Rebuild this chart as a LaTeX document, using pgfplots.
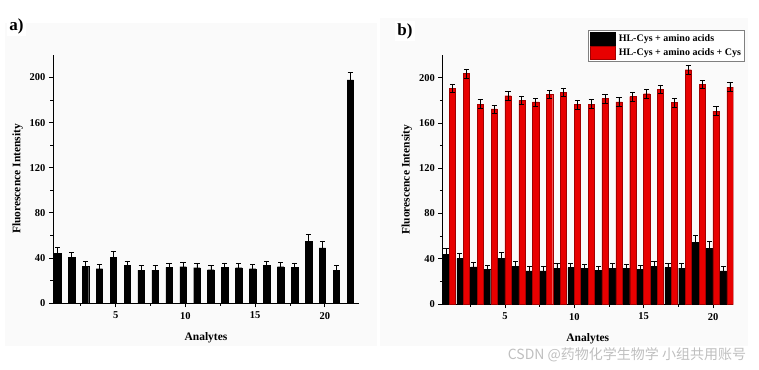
\documentclass[border=0pt]{standalone}
\usepackage{fontspec}
\setmainfont{Liberation Serif}
\newfontfamily\cjk{Noto Sans CJK SC}
\usepackage{pgfplots}
\pgfplotsset{compat=1.18}
\definecolor{barred}{RGB}{232,0,0}
\definecolor{bgray}{RGB}{250,250,250}
\pgfplotsset{
 common/.style={
  scale only axis,
  axis lines=left,
  axis line style={-, line width=0.9pt},
  ymin=0, ymax=220,
  ytick={0,40,...,200},
  minor ytick={20,60,...,180},
  xtick={5,10,15,20},
  minor xtick={2.5,7.5,12.5,17.5},
  tick align=outside,
  major tick length=4pt, minor tick length=2.5pt,
  tick style={line width=0.8pt, black},
  ticklabel style={font=\bfseries\fontsize{10.5}{12}\selectfont},
  xticklabel style={yshift=-1.5pt},
  /pgf/number format/assume math mode=true,
  xlabel={Analytes}, ylabel={Fluorescence Intensity},
  label style={font=\bfseries\fontsize{11.5}{13}\selectfont},
  xlabel style={yshift=-7pt},
  ybar,
  error bars/y dir=both, error bars/y explicit,
  error bars/error mark options={rotate=90, mark size=2.6pt, line width=0.8pt, black},
  error bars/error bar style={line width=0.8pt, black},
 }
}
\pgfplotstableread{
x y e
1 44 5
2 40.3 4.7
3 32.8 3.9
4 30.4 3.9
5 40.6 4.8
6 33.4 3.9
7 29.2 3.8
8 29.2 3.8
9 31.6 3.9
10 32.2 3.9
11 31.3 3.9
12 29.5 3.8
13 31.6 3.9
14 31.3 3.9
15 30.4 3.9
16 33.4 3.9
17 32.2 3.9
18 31.6 3.9
19 54.4 6.3
20 49 6
21 29.2 4
22 198 6.8
}\dataA
\pgfplotstableread{
x y e
1 44 5
2 40.3 4.7
3 32.8 3.9
4 30.4 3.9
5 40.6 4.8
6 33.4 3.9
7 29.2 3.8
8 29.2 3.8
9 31.6 3.9
10 32.2 3.9
11 31.3 3.9
12 29.5 3.8
13 31.6 3.9
14 31.3 3.9
15 30.4 3.9
16 33.4 3.9
17 32.2 3.9
18 31.6 3.9
19 54.4 6.3
20 49 6
21 29.2 4
}\dataBk
\pgfplotstableread{
x y e
1 190.6 3.8
2 203.5 4.2
3 176.7 3.8
4 172.3 3.5
5 184 4.2
6 180 3.8
7 178.5 3.5
8 185.3 3.7
9 187.3 3.6
10 176.1 3.8
11 176.7 3.8
12 181.4 3.8
13 178.5 3.6
14 183.2 3.8
15 185.8 3.8
16 189.7 3.8
17 177.9 3.8
18 207 4.2
19 194.1 3.8
20 170.5 3.8
21 191.7 3.8
}\dataBr
\begin{document}
\begin{tikzpicture}
\useasboundingbox (0,0) rectangle (759pt,369pt);
\fill[bgray] (5pt,23pt) rectangle (377pt,346pt);
\fill[bgray] (380pt,23pt) rectangle (748pt,351pt);
\node[fill=white, inner sep=2pt, font=\bfseries\fontsize{17}{18}\selectfont] at (16.5pt,343pt) {a)};
\node[fill=white, inner sep=2pt, font=\bfseries\fontsize{17}{18}\selectfont] at (405pt,338pt) {b)};
\begin{axis}[common,
  at={(53pt,66pt)}, anchor=south west,
  width=306pt, height=248pt,
  xmin=0.5, xmax=22.45,
  bar width=6.5pt,
]
\addplot[fill=black, draw=black, bar shift=-2.4pt] table[x=x, y=y, y error=e] {\dataA};
\end{axis}
\begin{axis}[common,
  at={(442.3pt,65pt)}, anchor=south west,
  width=291pt, height=249pt,
  xmin=0.48, xmax=21.46,
  bar width=6.2pt,
  legend style={at={(1.0378,1.1004)}, anchor=north east, draw=gray, line width=0.6pt,
    font=\bfseries\fontsize{10}{11}\selectfont, inner sep=1.5pt, row sep=1pt,
    nodes={inner sep=1.5pt}},
  legend cell align=left,
  legend image code/.code={\fill[#1] (0pt,-6.5pt) rectangle (25pt,6.5pt); \path (27pt,0pt);},
]
\addplot[fill=black, draw=black, line width=0.4pt, bar shift=-3.5pt] table[x=x, y=y, y error=e] {\dataBk};
\addlegendentry{HL-Cys + amino acids}
\addplot[fill=barred, draw=barred!70!black, line width=0.4pt, bar shift=3.0pt] table[x=x, y=y, y error=e] {\dataBr};
\addlegendentry{HL-Cys + amino acids + Cys}
\end{axis}
\node[text=gray!50, font=\cjk\fontsize{14}{14}\selectfont] at (627pt,14pt) {CSDN @药物化学生物学 小组共用账号};
\end{tikzpicture}
\end{document}
